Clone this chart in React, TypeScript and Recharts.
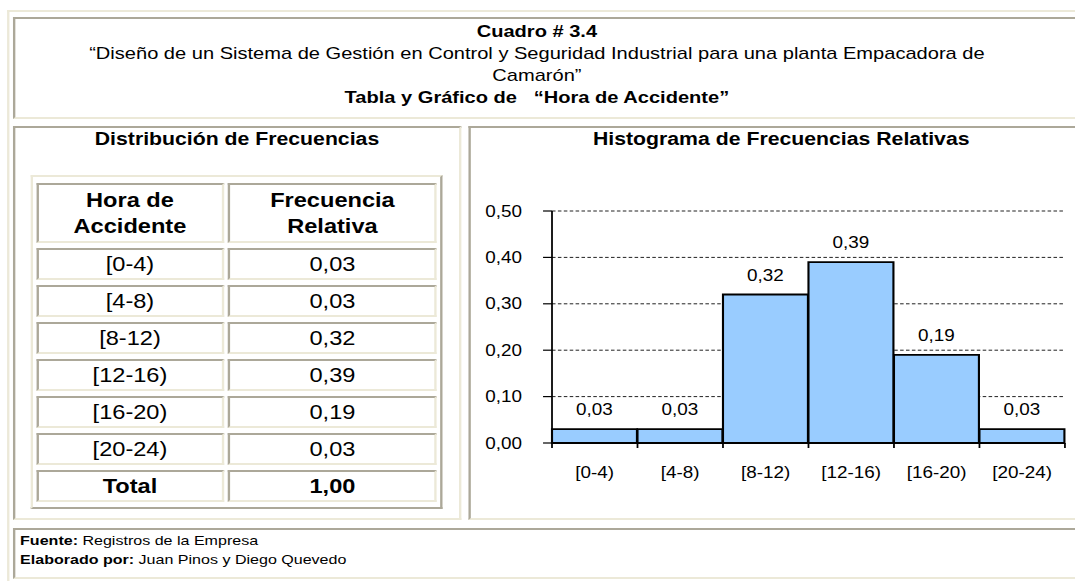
import React from "react";
import { BarChart, Bar, XAxis, YAxis, CartesianGrid, LabelList } from "recharts";

// intervalos horarios y frecuencias relativas
const bins = ["[0-4)", "[4-8)", "[8-12)", "[12-16)", "[16-20)", "[20-24)"];
const relFreq = [0.03, 0.03, 0.32, 0.39, 0.19, 0.03];
const total = 1.0;
const yTicks = [0, 0.1, 0.2, 0.3, 0.4, 0.5];

const titleLines = [
  "Cuadro # 3.4",
  "“Diseño de un Sistema de Gestión en Control y Seguridad Industrial para una planta Empacadora de",
  "Camarón”",
  "Tabla y Gráfico de   “Hora de Accidente”",
];

const chartData = bins.map((range, i) => ({ range, value: relFreq[i] }));

const FONT = "'Liberation Sans', Arial, sans-serif";
const LIGHT = "#ECE9D8";
const DARK = "#ACA899";
const S = 1.18; // the scan is stretched horizontally
const W = 1075 / S;

const fmt = (v: any) => Number(v).toFixed(2).replace(".", ",");

const Box = ({ x, y, w, h, inset, children }: any) => (
  <div
    style={{
      position: "absolute",
      left: x,
      top: y,
      width: w,
      height: h,
      boxSizing: "border-box",
      borderStyle: "solid",
      borderWidth: 2,
      borderColor: inset ? `${DARK} ${LIGHT} ${LIGHT} ${DARK}` : `${LIGHT} ${DARK} ${DARK} ${LIGHT}`,
      display: "flex",
      alignItems: "center",
      justifyContent: "center",
      textAlign: "center",
    }}
  >
    {children}
  </div>
);

const Line = ({ cy, bold, size, children, left = 0, width = 910, align = "center" }: any) => (
  <div
    style={{
      position: "absolute",
      left,
      width,
      top: cy - 11,
      height: 22,
      lineHeight: "22px",
      fontSize: size,
      fontWeight: bold ? "bold" : "normal",
      textAlign: align,
      whiteSpace: "pre",
    }}
  >
    {children}
  </div>
);

const EdgeTick = (props: any) => {
  const { x, y, payload, index } = props;
  const half = payload?.offset ?? props.width / bins.length / 2;
  return (
    <g>
      <line x1={x - half} x2={x - half} y1={y} y2={y + 5} stroke="#000" strokeWidth={1.5} />
      {index === bins.length - 1 && (
        <line x1={x + half} x2={x + half} y1={y} y2={y + 5} stroke="#000" strokeWidth={1.5} />
      )}
      <text x={x} y={y + 35} textAnchor="middle" fontSize={16} fontFamily={FONT} fill="#000">
        {payload.value}
      </text>
    </g>
  );
};

export default function App() {
  return (
    <div style={{ position: "absolute", left: 0, top: 0, width: 1075, height: 581, overflow: "hidden", background: "#fff" }}>
      <div
        style={{
          position: "absolute",
          left: 0,
          top: 0,
          width: W,
          height: 581,
          transform: `scaleX(${S})`,
          transformOrigin: "0 0",
          fontFamily: FONT,
          color: "#000",
        }}
      >
        <Box x={5.9} y={10} w={W + 20} h={590} />
        <Box x={11} y={17} w={W + 10} h={102} inset />
        <Box x={11} y={126} w={379.7} h={394} inset />
        <Box x={396.6} y={126} w={W} h={394} inset />
        <Box x={11} y={528} w={W + 10} h={51} inset />

        <Line cy={32} bold size={17}>{titleLines[0]}</Line>
        <Line cy={54} size={17}>{titleLines[1]}</Line>
        <Line cy={76} size={17}>{titleLines[2]}</Line>
        <Line cy={98} bold size={17}>{titleLines[3]}</Line>

        <Line cy={139} bold size={18} left={11} width={379.7}>Distribución de Frecuencias</Line>
        <Line cy={139} bold size={18} left={396.6} width={531}>Histograma de Frecuencias Relativas</Line>

        {/* tabla de frecuencias */}
        <Box x={26.3} y={175} w={348.3} h={334} />
        <Box x={30.5} y={183} w={159.3} h={60} inset>
          <div style={{ fontSize: 20, fontWeight: "bold", lineHeight: "26px" }}>Hora de<br />Accidente</div>
        </Box>
        <Box x={193.2} y={183} w={177.1} h={60} inset>
          <div style={{ fontSize: 20, fontWeight: "bold", lineHeight: "26px" }}>Frecuencia<br />Relativa</div>
        </Box>
        {bins.map((b, i) => (
          <React.Fragment key={b}>
            <Box x={30.5} y={248 + 37 * i} w={159.3} h={32} inset>
              <span style={{ fontSize: 20 }}>{b}</span>
            </Box>
            <Box x={193.2} y={248 + 37 * i} w={177.1} h={32} inset>
              <span style={{ fontSize: 20 }}>{fmt(relFreq[i])}</span>
            </Box>
          </React.Fragment>
        ))}
        <Box x={30.5} y={248 + 37 * 6} w={159.3} h={32} inset>
          <span style={{ fontSize: 20, fontWeight: "bold" }}>Total</span>
        </Box>
        <Box x={193.2} y={248 + 37 * 6} w={177.1} h={32} inset>
          <span style={{ fontSize: 20, fontWeight: "bold" }}>{fmt(total)}</span>
        </Box>

        {/* histograma */}
        <div style={{ position: "absolute", left: 400, top: 180 }}>
          <BarChart
            width={511}
            height={330}
            data={chartData}
            margin={{ top: 31, right: 8.5, left: 7.8, bottom: 22 }}
            barCategoryGap={0}
          >
            <CartesianGrid vertical={false} stroke="#000" strokeDasharray="3 2" strokeWidth={0.8} />
            <XAxis
              dataKey="range"
              height={45}
              interval={0}
              tickLine={false}
              tickSize={0}
              tickMargin={0}
              axisLine={{ stroke: "#000", strokeWidth: 1.5 }}
              tick={<EdgeTick />}
            />
            <YAxis
              type="number"
              domain={[0, 0.5]}
              ticks={yTicks}
              width={60}
              tickSize={7.6}
              tickMargin={17.8}
              axisLine={{ stroke: "#000", strokeWidth: 1.5 }}
              tickLine={{ stroke: "#000", strokeWidth: 1.2 }}
              tick={{ fill: "#000", fontSize: 16, fontFamily: FONT }}
              tickFormatter={fmt}
            />
            <Bar dataKey="value" fill="#99CCFF" stroke="#000" strokeWidth={1.8} isAnimationActive={false}>
              <LabelList dataKey="value" position="top" offset={14} formatter={fmt} fill="#000" fontSize={16} fontFamily={FONT} />
            </Bar>
          </BarChart>
        </div>

        <Line cy={541} size={13.6} left={17} width={600} align="left">
          <b>Fuente:</b> Registros de la Empresa
        </Line>
        <Line cy={560} size={13.6} left={17} width={600} align="left">
          <b>Elaborado por:</b> Juan Pinos y Diego Quevedo
        </Line>
      </div>
    </div>
  );
}
